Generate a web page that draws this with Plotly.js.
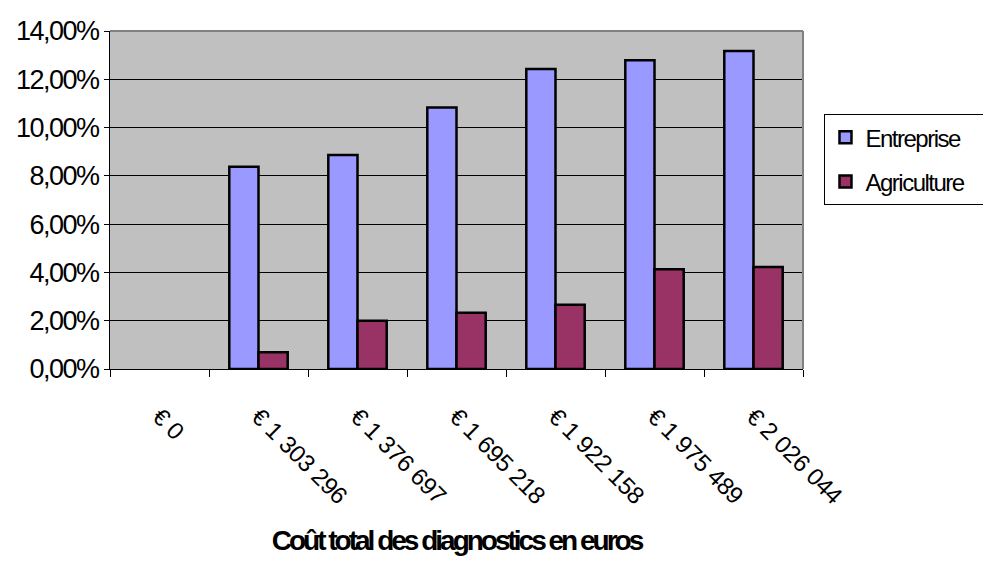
<!DOCTYPE html>
<html>
<head>
<meta charset="utf-8">
<script src="https://cdn.plot.ly/plotly-3.0.1.min.js"></script>
<style>
  html, body { margin: 0; padding: 0; background: #fff; }
  #chart { width: 983px; height: 561px; }
  .main-svg text { letter-spacing: -1.5px; }
  .main-svg .xtick text { letter-spacing: -0.3px; }
  .main-svg .g-xtitle text { letter-spacing: -3px; }
</style>
</head>
<body>
<div id="chart"></div>
<script>
const categories = ["€ 0", "€ 1 303 296", "€ 1 376 697", "€ 1 695 218", "€ 1 922 158", "€ 1 975 489", "€ 2 026 044"];
const entreprise = [null, 0.0838, 0.0886, 0.1083, 0.1243, 0.1279, 0.1317];
const agriculture = [null, 0.0069, 0.0200, 0.0233, 0.0266, 0.0413, 0.0422];
const yTicks = [0, 0.02, 0.04, 0.06, 0.08, 0.10, 0.12, 0.14];

const font = "Liberation Sans, Arial, sans-serif";

const traces = [
  {
    type: "bar", name: "Entreprise", x: categories, y: entreprise, legendgroup: "e",
    marker: { color: "#9999FF", line: { color: "#000000", width: 2.5 } },
    hoverinfo: "skip"
  },
  {
    type: "bar", name: "Agriculture", x: categories, y: agriculture, legendgroup: "a",
    marker: { color: "#993366", line: { color: "#000000", width: 2.5 } },
    hoverinfo: "skip"
  }
];

const layout = {
  width: 983, height: 561,
  margin: { l: 110, r: 180, t: 31, b: 192, autoexpand: false },
  paper_bgcolor: "#ffffff",
  plot_bgcolor: "#C0C0C0",
  separators: ", ",
  barmode: "group",
  bargap: 0.41,
  bargroupgap: 0,
  showlegend: true,
  font: { family: font, color: "#000000" },
  xaxis: {
    type: "category",
    tickson: "boundaries",
    ticks: "outside", ticklen: 7, tickcolor: "#000000", tickwidth: 1,
    tickangle: 45,
    ticklabelstandoff: 23,
    tickfont: { family: font, size: 24, color: "#000000" },
    showline: true, linecolor: "#000000", linewidth: 1,
    showgrid: false, zeroline: false,
    automargin: false,
    title: { text: "<b>Coût total des diagnostics en euros</b>", font: { family: font, size: 28, color: "#000000" }, standoff: 19 }
  },
  yaxis: {
    range: [0, 0.14],
    tickvals: yTicks,
    tickformat: ".2%",
    ticks: "outside", ticklen: 5, tickcolor: "#000000", tickwidth: 1,
    tickfont: { family: font, size: 27, color: "#000000" },
    showline: true, linecolor: "#000000", linewidth: 1,
    showgrid: true, gridcolor: "#000000", gridwidth: 1,
    zeroline: false,
    automargin: false
  },
  legend: {
    x: 1.031, xanchor: "left", y: 0.754, yanchor: "top",
    bgcolor: "#ffffff", bordercolor: "#000000", borderwidth: 1,
    font: { family: font, size: 24, color: "#000000" },
    traceorder: "grouped",
    tracegroupgap: 10,
    itemwidth: 30
  },
  shapes: [
    { type: "line", xref: "paper", yref: "paper", x0: 0, x1: 1, y0: 1, y1: 1, line: { color: "#808080", width: 2 } },
    { type: "line", xref: "paper", yref: "paper", x0: 1, x1: 1, y0: 0, y1: 1, line: { color: "#808080", width: 2 } }
  ]
};

Plotly.newPlot("chart", traces, layout, { displayModeBar: false, staticPlot: true });
</script>
</body>
</html>
